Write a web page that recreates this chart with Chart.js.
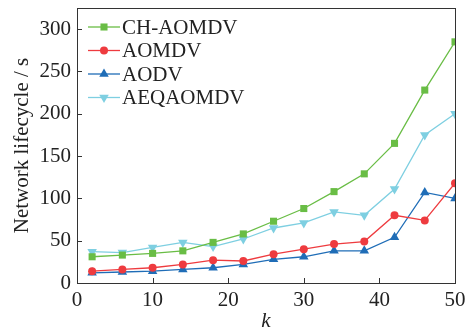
<!DOCTYPE html>
<html>
<head>
<meta charset="utf-8">
<script src="https://cdn.jsdelivr.net/npm/chart.js@4"></script>
<style>
  html, body { margin: 0; padding: 0; background: #fff; }
  #wrap { width: 469px; height: 330px; }
</style>
</head>
<body>
<div id="wrap"><canvas id="chart" width="469" height="330"></canvas></div>
<script>
'use strict';

let kValues = [2, 6, 10, 14, 18, 22, 26, 30, 34, 38, 42, 46, 50];
let chAomdv = [31, 33, 35, 38, 48, 58, 73, 88, 108, 129, 165, 228, 285];
let aomdv = [14, 16, 18, 22, 27, 26, 34, 40, 46, 49, 80, 74, 118];
let aodv = [12, 13, 14, 16, 18, 22, 28, 31, 38, 38, 54, 107, 100];
let aeqaomdv = [37, 36, 42, 48, 43, 52, 65, 71, 84, 80, 111, 175, 200];
let yTicks = [0, 50, 100, 150, 200, 250, 300];
let xTicks = [0, 10, 20, 30, 40, 50];

let serif = '"Liberation Serif", "DejaVu Serif", serif';

function toPoints(arr) {
  let pts = [];
  for (let i = 0; i < kValues.length; i++) {
    pts.push({ x: kValues[i], y: arr[i] });
  }
  return pts;
}

function makeSet(label, arr, color, style, rot, radius) {
  return {
    label: label,
    data: toPoints(arr),
    borderColor: color,
    backgroundColor: color,
    borderWidth: 1.3,
    pointStyle: style,
    pointRotation: rot,
    pointRadius: radius,
    pointBorderWidth: 0,
    tension: 0
  };
}

// frame, inward ticks and a legend sitting inside the plot
let framePlugin = {
  id: 'frame',
  afterDraw(chart) {
    let ctx = chart.ctx;
    let a = chart.chartArea;
    ctx.save();
    ctx.strokeStyle = '#333';
    ctx.lineWidth = 1;
    ctx.strokeRect(a.left + 0.5, a.top + 0.5, a.right - a.left, a.bottom - a.top);
    let xs = chart.scales.x;
    let ys = chart.scales.y;
    ctx.beginPath();
    xs.ticks.forEach(t => {
      let px = Math.round(xs.getPixelForValue(t.value)) + 0.5;
      ctx.moveTo(px, a.bottom);
      ctx.lineTo(px, a.bottom - 5);
    });
    ys.ticks.forEach(t => {
      let py = Math.round(ys.getPixelForValue(t.value)) + 0.5;
      ctx.moveTo(a.left, py);
      ctx.lineTo(a.left + 5, py);
    });
    ctx.stroke();

    ctx.font = '21px ' + serif;
    ctx.textBaseline = 'middle';
    chart.data.datasets.forEach((ds, i) => {
      let y = a.top + 19 + i * 23.5;
      let x0 = a.left + 11;
      ctx.strokeStyle = ds.borderColor;
      ctx.lineWidth = 1.3;
      ctx.beginPath();
      ctx.moveTo(x0, y);
      ctx.lineTo(x0 + 32, y);
      ctx.stroke();
      ctx.fillStyle = ds.backgroundColor;
      Chart.helpers.drawPoint(ctx, {
        pointStyle: ds.pointStyle,
        rotation: ds.pointRotation,
        radius: ds.pointRadius,
        borderWidth: 0
      }, x0 + 16, y);
      ctx.fillStyle = '#222';
      ctx.fillText(ds.label, x0 + 34, y + 1);
    });
    ctx.restore();
  }
};

let ctx = document.getElementById('chart');
new Chart(ctx, {
  type: 'line',
  data: {
    datasets: [
      makeSet('CH-AOMDV', chAomdv, '#69bd45', 'rect', 0, 5),
      makeSet('AOMDV', aomdv, '#ee3b3f', 'circle', 0, 4),
      makeSet('AODV', aodv, '#1f6db7', 'triangle', 0, 5.5),
      makeSet('AEQAOMDV', aeqaomdv, '#7ecfe1', 'triangle', 180, 5.5)
    ]
  },
  options: {
    responsive: false,
    animation: false,
    layout: { padding: { top: 8, right: 14, left: 8, bottom: 0 } },
    plugins: {
      legend: { display: false },
      tooltip: { enabled: false }
    },
    scales: {
      x: {
        type: 'linear',
        min: 0,
        max: 50,
        afterBuildTicks: s => { s.ticks = xTicks.map(v => ({ value: v })); },
        afterFit: s => {
          s.height = 47;
          s.paddingLeft = 0;
          s.paddingRight = 0;
        },
        grid: { display: false, drawTicks: false, tickLength: 0 },
        border: { display: false },
        ticks: { color: '#222', font: { family: serif, size: 21 }, padding: 5, maxRotation: 0 },
        title: {
          display: true,
          text: 'k',
          color: '#222',
          font: { family: serif, size: 21, style: 'italic' },
          padding: { top: 0, bottom: -4 }
        }
      },
      y: {
        min: 0,
        max: 325,
        afterBuildTicks: s => { s.ticks = yTicks.map(v => ({ value: v })); },
        afterFit: s => {
          s.width = 69;
          s.paddingTop = 0;
          s.paddingBottom = 0;
        },
        grid: { display: false, drawTicks: false, tickLength: 0 },
        border: { display: false },
        ticks: { color: '#222', font: { family: serif, size: 21 }, padding: 6 },
        title: {
          display: true,
          text: 'Network lifecycle / s',
          color: '#222',
          font: { family: serif, size: 21 },
          padding: { top: 1.5, bottom: 0 }
        }
      }
    }
  },
  plugins: [framePlugin]
});
</script>
</body>
</html>
